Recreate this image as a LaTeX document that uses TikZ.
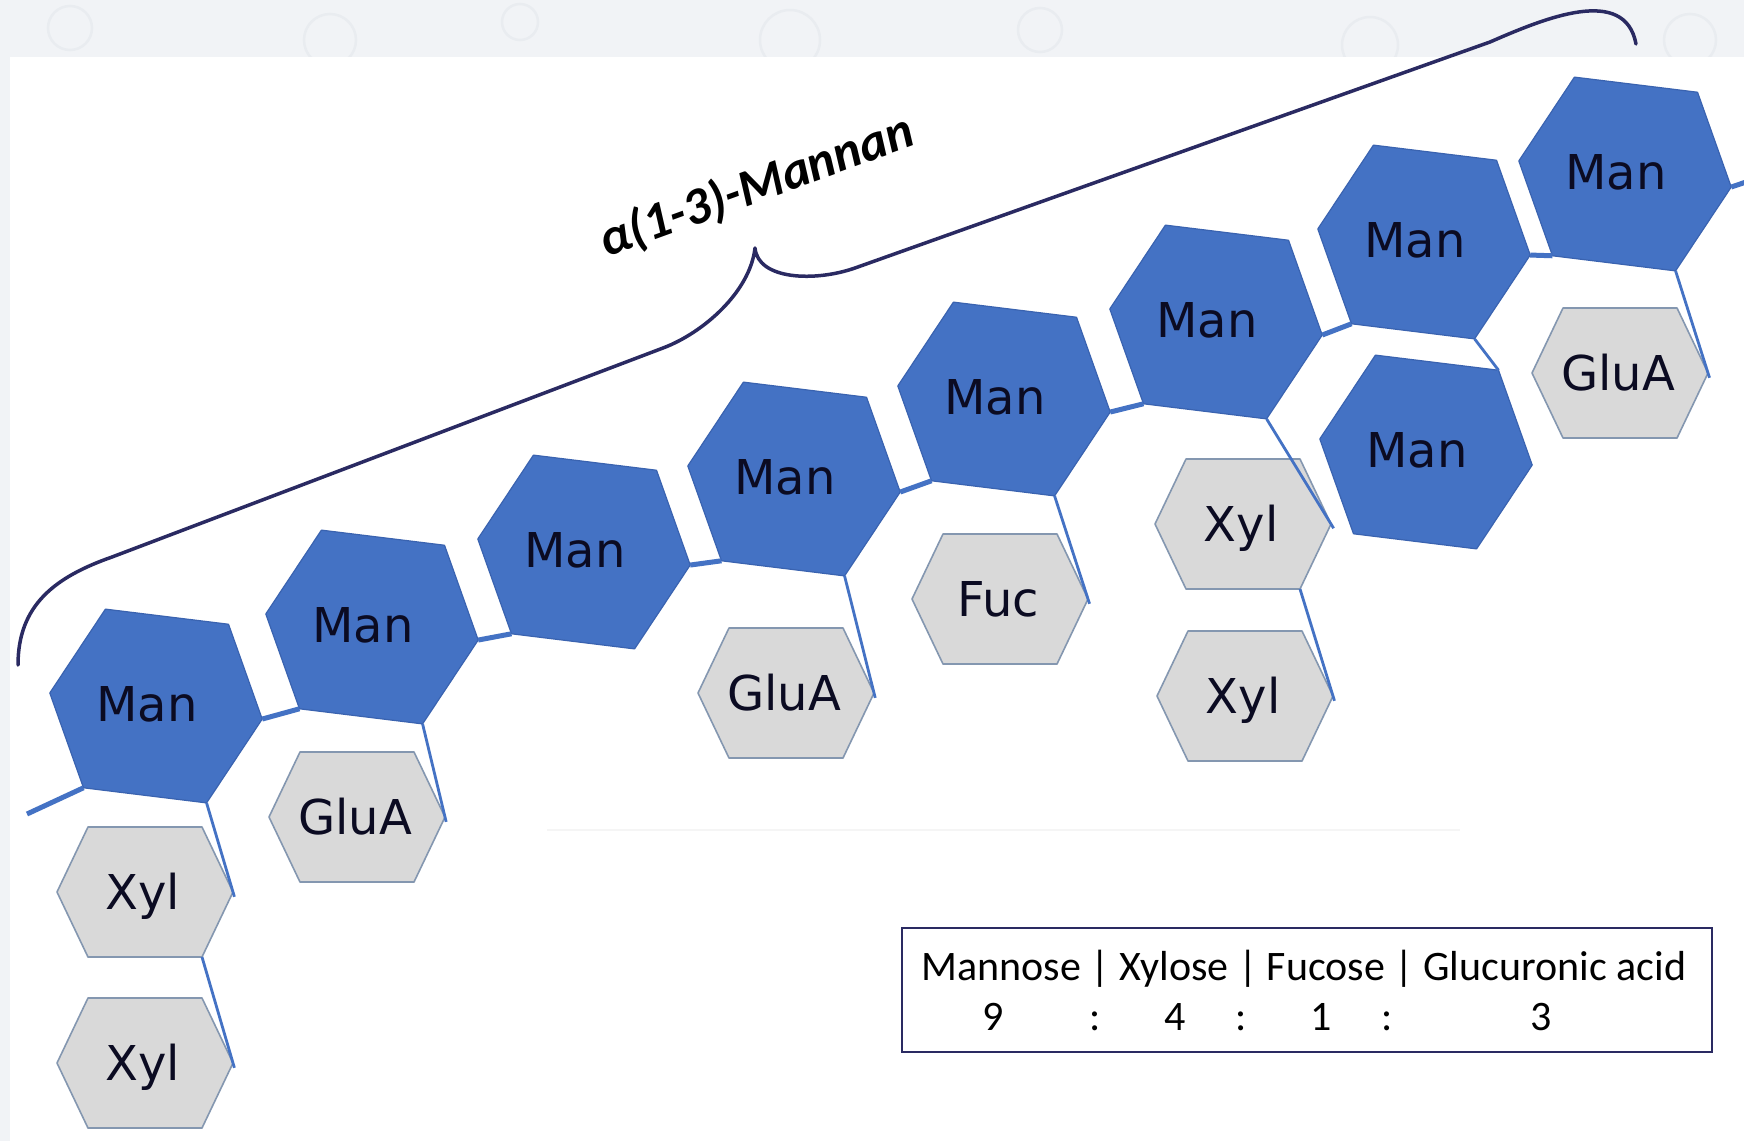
\documentclass[tikz,border=0pt]{standalone}
\usepackage{fontspec}
\setmainfont{Carlito}
\newfontfamily\hexfont{DejaVu Sans}
\definecolor{manblue}{HTML}{4472C4}
\definecolor{manedge}{HTML}{3A63B0}
\definecolor{grayfill}{HTML}{D9D9D9}
\definecolor{grayedge}{HTML}{8497B0}
\definecolor{labelcol}{HTML}{0B0B22}
\definecolor{bracecol}{HTML}{2A2A62}
\definecolor{bgcol}{HTML}{F1F3F6}
\definecolor{bubblecol}{HTML}{E9ECF0}
\tikzset{
  hexlabel/.style={font=\hexfont\fontsize{48}{58}\selectfont, text=labelcol, inner sep=0pt, anchor=base},
  manhex/.pic={
    \path[draw=manedge, fill=manblue, line width=1.2pt, line join=round]
      (-107,0) coordinate (-l) -- (-62,-90) coordinate (-tl) -- (62,-90) coordinate (-tr)
      -- (107,0) coordinate (-r) -- (62,90) coordinate (-br) -- (-62,90) coordinate (-bl) -- cycle;
    \node[hexlabel] (-t) at (-7,16) {Man};
  },
  sughex/.pic={
    \path[draw=grayedge, fill=grayfill, line width=1.6pt, line join=round]
      (-88,0) coordinate (-l) -- (-57,-65) coordinate (-tl) -- (57,-65) coordinate (-tr)
      -- (88,0) coordinate (-r) -- (57,65) coordinate (-br) -- (-57,65) coordinate (-bl) -- cycle;
    \node[hexlabel] (-t) at (-2,17) {#1};
  },
  bond/.style={draw=manblue, line width=5pt},
  branch/.style={draw=manblue, line width=2.8pt, shorten >=-5pt},
  brace/.style={draw=bracecol, line width=3.5pt, line cap=round, line join=round},
  legtext/.style={font=\fontsize{42}{50}\selectfont, text=black, inner sep=0pt, anchor=base},
  bubble/.style={draw=bubblecol, line width=2.5pt}
}
\begin{document}
\begin{tikzpicture}[x=1pt,y=-1pt]
\useasboundingbox (0,0) rectangle (1744,1141);
% background
\fill[bgcol] (0,0) rectangle (1744,1141);
\draw[bubble] (70,28) circle (22);
\draw[bubble] (330,40) circle (26);
\draw[bubble] (520,22) circle (18);
\draw[bubble] (790,40) circle (30);
\draw[bubble] (1040,30) circle (22);
\draw[bubble] (1370,45) circle (28);
\draw[bubble] (1690,40) circle (26);
\fill[white] (10,57) rectangle (1744,1141);
\draw[draw=white!96!black, line width=2pt] (547,830) -- (1460,830);

% hexagons
\pic[rotate=-7] (m1) at (156,706) {manhex};
\pic[rotate=-7] (m2) at (372,627) {manhex};
\pic[rotate=-7] (m3) at (584,552) {manhex};
\pic[rotate=-7] (m4) at (794,479) {manhex};
\pic[rotate=-7] (m5) at (1004,399) {manhex};
\pic[rotate=-7] (m6) at (1216,322) {manhex};
\pic[rotate=-7] (m7) at (1424,242) {manhex};
\pic[rotate=-7] (m8) at (1625,174) {manhex};
\pic[rotate=-7] (m9) at (1426,452) {manhex};

\pic (xyl1) at (145,892) {sughex=Xyl};
\pic (xyl2) at (145,1063) {sughex=Xyl};
\pic (glua1) at (357,817) {sughex=GluA};
\pic (glua2) at (786,693) {sughex=GluA};
\pic (fuc) at (1000,599) {sughex=Fuc};
\pic (xyl3) at (1243,524) {sughex=Xyl};
\pic (xyl4) at (1245,696) {sughex=Xyl};
\pic (glua3) at (1620,373) {sughex=GluA};

% backbone bonds
\coordinate (chainL) at (27,814);
\coordinate (chainR) at (1746,182);
\draw[bond] (chainL) -- (m1-bl);
\draw[bond] (m1-r) -- (m2-bl);
\draw[bond] (m2-r) -- (m3-bl);
\draw[bond] (m3-r) -- (m4-bl);
\draw[bond] (m4-r) -- (m5-bl);
\draw[bond] (m5-r) -- (m6-bl);
\draw[bond] (m6-r) -- (m7-bl);
\draw[bond] (m7-r) -- (m8-bl);
\draw[bond] (m8-r) -- (chainR);

% branches
\draw[branch] (m1-br) -- (xyl1-r);
\draw[branch] (xyl1-br) -- (xyl2-r);
\draw[branch] (m2-br) -- (glua1-r);
\draw[branch] (m4-br) -- (glua2-r);
\draw[branch] (m5-br) -- (fuc-r);
\draw[branch] (m6-br) -- (xyl3-r);
\draw[branch] (xyl3-br) -- (xyl4-r);
\draw[branch, shorten >=0pt] (m7-br) -- (m9-tr);
\draw[branch] (m8-br) -- (glua3-r);

% brace
\coordinate (braceL) at (18,665);
\coordinate (braceTip) at (755,248);
\coordinate (braceR) at (1636,44);
\draw[brace] (braceL) .. controls (18,605) and (55,577) .. (112,557)
  -- (663,348) .. controls (703,333) and (750,292) .. (braceTip)
  .. controls (758,280) and (815,282) .. (855,268)
  -- (1490,42) .. controls (1545,18) and (1625,-15) .. (braceR);
\node[font=\bfseries\itshape\fontsize{52}{60}\selectfont, text=black, anchor=base, rotate=20, inner sep=0pt]
  (mannan) at (762,201) {α(1-3)-Mannan};

% legend
\node[draw=bracecol, line width=2pt, minimum width=810, minimum height=124, inner sep=0pt]
  (legend) at (1307,990) {};
\node[legtext] (l1) at (1304,980) {Mannose | Xylose | Fucose | Glucuronic acid};
\node[legtext] (n1) at (993,1030) {9};
\node[legtext] (c1) at (1095,1030) {:};
\node[legtext] (n2) at (1175,1030) {4};
\node[legtext] (c2) at (1241,1030) {:};
\node[legtext] (n3) at (1321,1030) {1};
\node[legtext] (c3) at (1387,1030) {:};
\node[legtext] (n4) at (1541,1030) {3};
\end{tikzpicture}
\end{document}
